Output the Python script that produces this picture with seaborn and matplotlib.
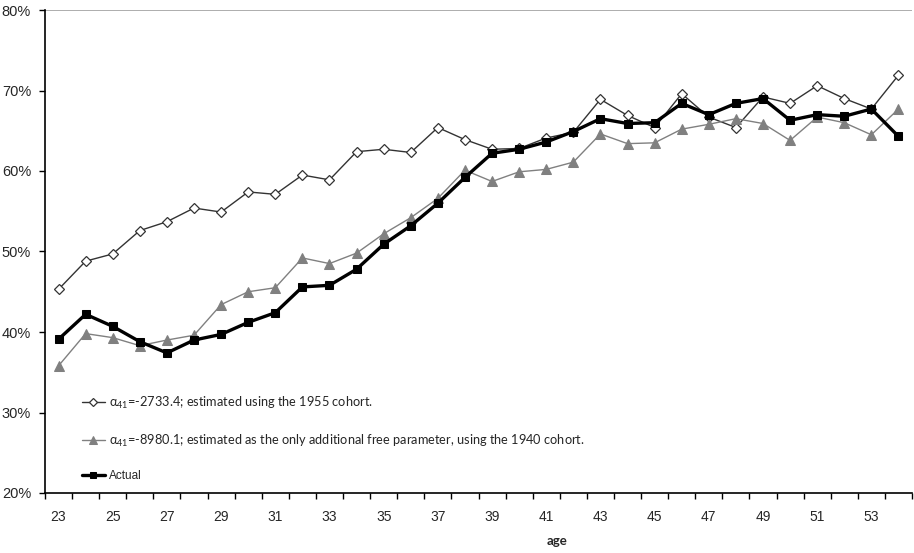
import numpy as np
import pandas as pd
import matplotlib
matplotlib.use("Agg")
import matplotlib.pyplot as plt
import seaborn as sns
from matplotlib.ticker import FuncFormatter, FixedLocator

ages = list(range(23, 55))
est_1955 = [45.3, 48.8, 49.7, 52.6, 53.7, 55.4, 54.9, 57.4, 57.1, 59.5,
            58.9, 62.4, 62.7, 62.3, 65.4, 63.9, 62.7, 62.8, 64.1, 64.8,
            68.9, 66.9, 65.4, 69.6, 66.7, 65.4, 69.2, 68.4, 70.6, 69.0,
            67.7, 71.9]
est_1940 = [35.8, 39.8, 39.3, 38.3, 39.0, 39.6, 43.4, 45.0, 45.5, 49.2,
            48.5, 49.8, 52.2, 54.2, 56.6, 60.1, 58.7, 59.9, 60.2, 61.1,
            64.6, 63.4, 63.5, 65.2, 65.8, 66.5, 65.9, 63.8, 66.7, 66.0,
            64.5, 67.7]
actual = [39.1, 42.2, 40.7, 38.8, 37.4, 39.0, 39.7, 41.2, 42.4, 45.6,
          45.8, 47.8, 50.9, 53.2, 56.0, 59.2, 62.2, 62.7, 63.6, 64.9,
          66.5, 65.9, 66.0, 68.4, 67.0, 68.4, 69.0, 66.3, 67.0, 66.8,
          67.7, 64.3]
labels = ["α$_{41}$=-2733.4; estimated using the 1955 cohort.",
          "α$_{41}$=-8980.1; estimated as the only additional free parameter, using the 1940 cohort.",
          "Actual"]
x_label = "age"
y_ticks = [20, 30, 40, 50, 60, 70, 80]

sns.set_style("white")
plt.rcParams['font.family'] = ['Liberation Sans', 'DejaVu Sans']
plt.rcParams['mathtext.fontset'] = 'custom'
plt.rcParams['mathtext.rm'] = 'Lato'
plt.rcParams['mathtext.it'] = 'Lato'
plt.rcParams['mathtext.default'] = 'regular'

fig = plt.figure(figsize=(9.14, 5.53), dpi=100)
ax = fig.add_axes([45/914, 60/553, 867/914, 483/553])

df = pd.DataFrame({"age": ages, "e55": est_1955, "e40": est_1940, "act": actual})

sns.lineplot(data=df, x="age", y="e55", ax=ax, color="#333333", lw=1.0,
             marker="D", markersize=5.5, markerfacecolor="white",
             markeredgecolor="#333333", markeredgewidth=0.9, label=labels[0])
sns.lineplot(data=df, x="age", y="e40", ax=ax, color="#808080", lw=1.0,
             marker="^", markersize=7.5, markerfacecolor="#808080",
             markeredgecolor="#808080", label=labels[1])
sns.lineplot(data=df, x="age", y="act", ax=ax, color="black", lw=2.4,
             marker="s", markersize=5.5, markerfacecolor="black",
             markeredgecolor="black", label=labels[2])

ax.set_xlim(22.5, 54.5)
ax.set_ylim(20, 80)
ax.yaxis.set_major_locator(FixedLocator(y_ticks))
ax.yaxis.set_major_formatter(FuncFormatter(lambda v, p: f"{int(v)}%"))
ax.set_xticks(ages[::2])
ax.set_xticklabels([str(a) for a in ages[::2]])
ax.set_xticks([a - 0.5 for a in ages] + [ages[-1] + 0.5], minor=True)
ax.tick_params(axis="x", which="major", length=0, pad=12, labelsize=10)
ax.tick_params(axis="x", which="minor", length=4, width=1, direction="out", color="black")
ax.tick_params(axis="y", which="major", length=4, width=1, direction="out", color="black",
               labelsize=10.5, pad=6)
ax.tick_params(bottom=True, left=True, which="both")

for s in ["right", "top"]:
    ax.spines[s].set_visible(False)
for s in ["left", "bottom"]:
    ax.spines[s].set_color("black")
    ax.spines[s].set_linewidth(1.2)
ax.axhline(80, color="#a0a0a0", lw=1.2, zorder=0)

ax.set_xlabel(x_label, fontsize=9.5, fontweight="bold", family=["Lato", "DejaVu Sans"])
ax.xaxis.set_label_coords((557 - 45) / 867, -42 / 483)
ax.set_ylabel("")

leg = ax.legend(loc="lower left", bbox_to_anchor=(0.029, -0.002), frameon=False,
                handlelength=1.85, handletextpad=0.3, labelspacing=1.7, markerscale=0.75,
                prop={"family": ["Lato", "DejaVu Sans"], "size": 9.2})
for t in leg.get_texts():
    if t.get_text() == "Actual":
        t.set_fontfamily(["Liberation Sans"])
        t.set_fontsize(8.5)

fig.savefig("out.png", dpi=100)
